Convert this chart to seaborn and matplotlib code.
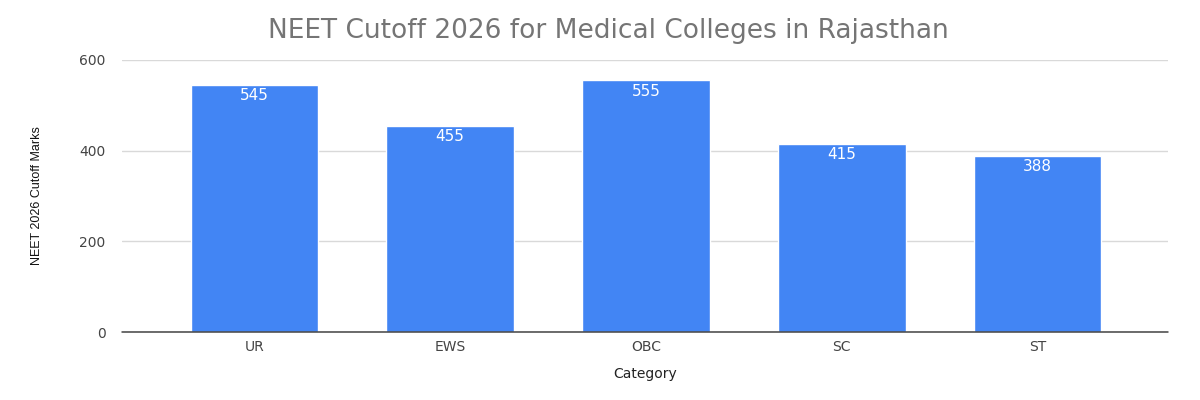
import matplotlib
matplotlib.use("Agg")
import matplotlib.pyplot as plt
import seaborn as sns
import pandas as pd

categories = ["UR", "EWS", "OBC", "SC", "ST"]
cutoff_marks = [545, 455, 555, 415, 388]
y_ticks = [0, 200, 400, 600]

df = pd.DataFrame({"Category": categories, "Marks": cutoff_marks})

sns.set_theme(style="white")
plt.rcParams['font.family'] = ['DejaVu Sans']

fig = plt.figure(figsize=(12, 4), dpi=100)
ax = fig.add_axes([0.102, 0.17, 0.871, 0.68])

sns.barplot(data=df, x="Category", y="Marks", color="#4285F4", saturation=1,
            width=0.65, ax=ax, zorder=3)

# value labels inside the top of each bar
for i, v in enumerate(cutoff_marks):
    ax.text(i, v - 7, str(v), ha="center", va="top", color="white", fontsize=11, zorder=4)

ax.set_ylim(0, 600)
ax.set_xlim(-0.673, 4.663)
ax.set_yticks(y_ticks)
ax.yaxis.grid(True, color="#d9d9d9", linewidth=1, zorder=0)
ax.axhline(0, color="#444444", linewidth=1.1, zorder=5, clip_on=False)
for s in ax.spines.values():
    s.set_visible(False)

ax.tick_params(axis="both", length=0, labelsize=10, labelcolor="#444444")
ax.tick_params(axis="y", pad=12)
ax.tick_params(axis="x", pad=6)
ax.set_xlabel("Category", fontsize=10, color="#222222", labelpad=9)
ax.set_ylabel("NEET 2026 Cutoff Marks", fontsize=9, color="#111111", labelpad=26,
              family="Liberation Sans")
fig.suptitle("NEET Cutoff 2026 for Medical Colleges in Rajasthan", x=0.507, y=0.922,
             va="center", fontsize=19, color="#757575")

fig.savefig("out.png", dpi=100)
